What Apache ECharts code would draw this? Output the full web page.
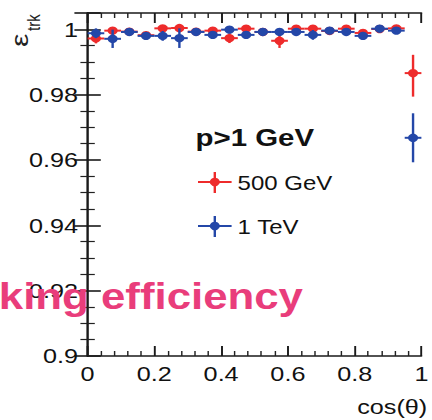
<!DOCTYPE html>
<html><head><meta charset="utf-8">
<script src="https://cdn.jsdelivr.net/npm/echarts@6/dist/echarts.min.js"></script>
<style>
html,body{margin:0;padding:0;background:#fff;overflow:hidden;width:432px;height:420px}
#chart{width:360px;height:420px;transform:scaleX(1.2);transform-origin:0 0;}
</style>
</head><body><div id="chart"></div>
<script>
// ---- data ----
const binCenters = [0.025,0.075,0.125,0.175,0.225,0.275,0.325,0.375,0.425,0.475,0.525,0.575,0.625,0.675,0.725,0.775,0.825,0.875,0.925,0.975];
const binHalfWidth = [0.025,0.025,0.025,0.025,0.025,0.025,0.025,0.025,0.025,0.025,0.025,0.025,0.025,0.025,0.025,0.025,0.025,0.025,0.025,0.025];
const eff500GeV      = [0.9972,0.9996,0.9993,0.9982,1.0003,1.0004,0.9993,0.9996,0.9973,1.0002,0.9992,0.9965,1.0002,1.0002,0.9995,1.0002,0.9989,1.0001,1.0003,0.9866];
const eff500GeVErrLo = [0.0015,0.0008,0.0008,0.0008,0.0008,0.0008,0.0008,0.0008,0.0015,0.0008,0.0008,0.0022,0.0008,0.0008,0.0008,0.0008,0.0008,0.0008,0.0008,0.0072];
const eff500GeVErrHi = [0.0015,0.0008,0.0008,0.0008,0.0008,0.0008,0.0008,0.0008,0.0015,0.0008,0.0008,0.0022,0.0008,0.0008,0.0008,0.0008,0.0008,0.0008,0.0008,0.0056];
const eff1TeV        = [0.9988,0.9971,0.9992,0.9980,0.9980,0.9973,0.9992,0.9983,0.9999,0.9983,0.9992,0.9992,0.9992,0.9983,0.9996,0.9992,0.9980,1.0002,0.9996,0.9668];
const eff1TeVErr     = [0.0015,0.0028,0.0010,0.0012,0.0015,0.0030,0.0010,0.0012,0.0010,0.0012,0.0010,0.0010,0.0010,0.0015,0.0010,0.0010,0.0012,0.0010,0.0010,0.0075];
const seriesNames = ['500 GeV', '1 TeV'];
const legendHeader = 'p>1 GeV';
const overlayText = 'king efficiency';
const xAxisTitle = 'cos(\u03b8)';
const yAxisTitle = ['\u03b5', 'trk'];

const RED = '#ee2b2b', BLUE = '#2447a8';
const FONT = '"Liberation Sans", Arial, Helvetica, sans-serif';

function buildData(x, y, lo, hi, hw) {
  return x.map((xv, i) => [xv, y[i], y[i] - lo[i], y[i] + hi[i], hw[i]]);
}
const data500 = buildData(binCenters, eff500GeV, eff500GeVErrLo, eff500GeVErrHi, binHalfWidth);
const data1T = buildData(binCenters, eff1TeV, eff1TeVErr, eff1TeVErr, binHalfWidth);

const MR = 4.2;
function errRender(color) {
  return function (params, api) {
    const x = api.value(0), y = api.value(1), lo = api.value(2), hi = api.value(3), hw = api.value(4);
    const c = api.coord([x, y]);
    const l = api.coord([x - hw, y]);
    const r = api.coord([x + hw, y]);
    const t = api.coord([x, hi]);
    const b = api.coord([x, lo]);
    return {
      type: 'group',
      children: [
        { type: 'line', shape: { x1: l[0], y1: c[1], x2: r[0], y2: c[1] }, style: { stroke: color, lineWidth: 2 } },
        { type: 'line', shape: { x1: c[0], y1: t[1], x2: c[0], y2: b[1] }, style: { stroke: color, lineWidth: 2 } },
        { type: 'circle', shape: { cx: c[0], cy: c[1], r: MR }, style: { fill: color } }
      ]
    };
  };
}

const axisLineStyle = { color: '#1a1a1a', width: 1.6 };
const labelFmt = v => String(Number(v.toFixed(3)));

const chart = echarts.init(document.getElementById('chart'), null, { renderer: 'svg' });
chart.setOption({
  animation: false,
  backgroundColor: '#fff',
  grid: { left: 73, right: 2.5, top: 13, bottom: 64, containLabel: false },
  xAxis: [
    { type: 'value', min: 0, max: 1, interval: 0.2, position: 'bottom',
      axisLine: { show: true, lineStyle: axisLineStyle },
      axisTick: { show: true, inside: true, length: 10, lineStyle: axisLineStyle },
      minorTick: { show: true, splitNumber: 5, length: 5, lineStyle: { color: '#222', width: 1.2 } },
      splitLine: { show: false },
      axisLabel: { fontFamily: FONT, fontSize: 21, color: '#111', margin: 7, formatter: labelFmt, showMaxLabel: true } },
    { type: 'value', min: 0, max: 1, interval: 0.2, position: 'top',
      axisLine: { show: true, lineStyle: axisLineStyle },
      axisTick: { show: true, inside: true, length: 10, lineStyle: axisLineStyle },
      minorTick: { show: true, splitNumber: 5, length: 5, lineStyle: { color: '#222', width: 1.2 } },
      splitLine: { show: false }, axisLabel: { show: false } }
  ],
  yAxis: [
    { type: 'value', min: 0.9, max: 1.005, interval: 0.02, position: 'left',
      axisLine: { show: true, lineStyle: axisLineStyle },
      axisTick: { show: true, inside: true, length: 11, lineStyle: axisLineStyle },
      minorTick: { show: true, splitNumber: 4, length: 6, lineStyle: { color: '#222', width: 1.2 } },
      splitLine: { show: false },
      axisLabel: { fontFamily: FONT, fontSize: 21, color: '#111', margin: 8, formatter: labelFmt, showMaxLabel: false } },
    { type: 'value', min: 0.9, max: 1.005, interval: 0.02, position: 'right',
      axisLine: { show: true, lineStyle: axisLineStyle },
      axisTick: { show: true, inside: true, length: 11, lineStyle: axisLineStyle },
      minorTick: { show: true, splitNumber: 4, length: 6, lineStyle: { color: '#222', width: 1.2 } },
      splitLine: { show: false }, axisLabel: { show: false } }
  ],
  series: [
    { name: seriesNames[0], type: 'custom', renderItem: errRender(RED), data: data500, clip: false, z: 2,
      encode: { x: 0, y: [1, 2, 3] } },
    { name: seriesNames[1], type: 'custom', renderItem: errRender(BLUE), data: data1T, clip: false, z: 3,
      encode: { x: 0, y: [1, 2, 3] } }
  ],
  graphic: [
    // y axis title epsilon_trk (rotated 90deg counter-clockwise)
    { type: 'group', x: 22.5, y: 47, rotation: Math.PI / 2, children: [
      { type: 'text', x: 0, y: 4, scaleX: 1.5,
        style: { text: yAxisTitle[0], font: '20px ' + FONT, fill: '#222', align: 'left', verticalAlign: 'bottom' } },
      { type: 'text', x: 16, y: 13.5,
        style: { text: yAxisTitle[1], font: '15px ' + FONT, fill: '#222', align: 'left', verticalAlign: 'bottom' } }
    ] },
    // x axis title
    { type: 'text', x: 356, y: 407,
      style: { text: xAxisTitle, font: '21px ' + FONT, fill: '#111', align: 'right', verticalAlign: 'middle' } },
    // legend
    { type: 'text', x: 163, y: 138,
      style: { text: legendHeader, font: 'bold 24.5px ' + FONT, fill: '#111', align: 'left', verticalAlign: 'middle' } },
    { type: 'group', children: [
      { type: 'line', shape: { x1: 165, y1: 182, x2: 193, y2: 182 }, style: { stroke: RED, lineWidth: 2 } },
      { type: 'line', shape: { x1: 179, y1: 172, x2: 179, y2: 193 }, style: { stroke: RED, lineWidth: 2 } },
      { type: 'circle', shape: { cx: 179, cy: 182, r: MR }, style: { fill: RED } },
      { type: 'text', x: 198, y: 183, style: { text: seriesNames[0], font: '20px ' + FONT, fill: '#111', align: 'left', verticalAlign: 'middle' } }
    ] },
    { type: 'group', children: [
      { type: 'line', shape: { x1: 165, y1: 226, x2: 193, y2: 226 }, style: { stroke: BLUE, lineWidth: 2 } },
      { type: 'line', shape: { x1: 179, y1: 216, x2: 179, y2: 237 }, style: { stroke: BLUE, lineWidth: 2 } },
      { type: 'circle', shape: { cx: 179, cy: 226, r: MR }, style: { fill: BLUE } },
      { type: 'text', x: 198, y: 227, style: { text: seriesNames[1], font: '20px ' + FONT, fill: '#111', align: 'left', verticalAlign: 'middle' } }
    ] },
    // overlay pink text
    { type: 'text', x: -1, y: 297, z: 100,
      style: { text: overlayText, font: 'bold 36.5px ' + FONT, fill: '#e93d7b', align: 'left', verticalAlign: 'middle' } }
  ]
});
</script>
</body></html>
